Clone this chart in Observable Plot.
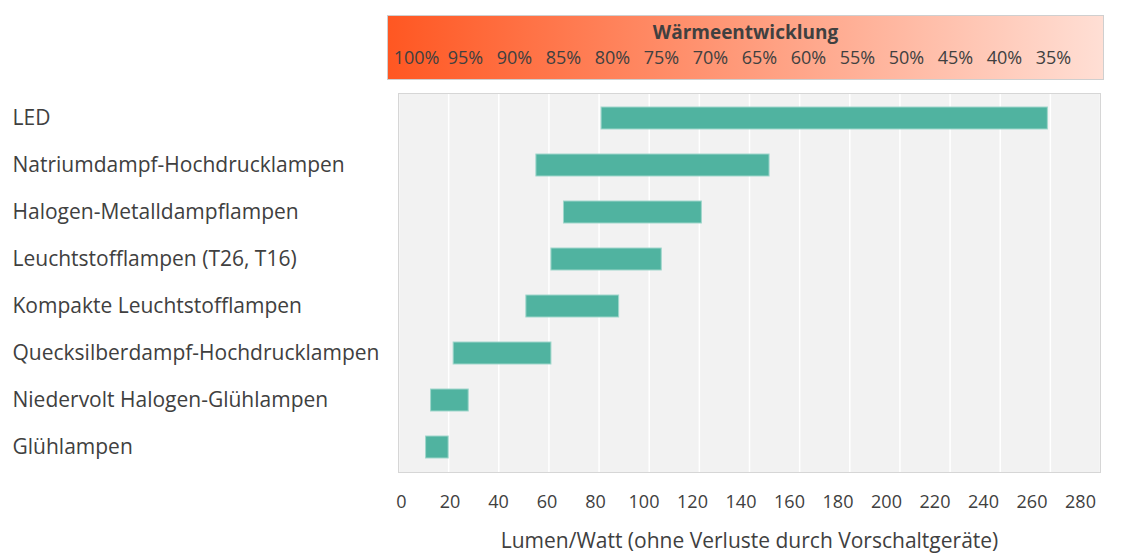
<!DOCTYPE html>
<html>
<head>
<meta charset="utf-8">
<script src="https://cdn.jsdelivr.net/npm/d3@7"></script>
<script src="https://cdn.jsdelivr.net/npm/@observablehq/plot@0.6"></script>
<style>
  html, body { margin: 0; padding: 0; background: #ffffff; }
  #chart svg { display: block; }
</style>
</head>
<body>
<div id="chart"></div>
<script>
// ---- Data ----
const categories = [
  "LED",
  "Natriumdampf-Hochdrucklampen",
  "Halogen-Metalldampflampen",
  "Leuchtstofflampen (T26, T16)",
  "Kompakte Leuchtstofflampen",
  "Quecksilberdampf-Hochdrucklampen",
  "Niedervolt Halogen-Glühlampen",
  "Glühlampen"
];
const minValues = [81, 55, 66, 61, 51, 22, 13, 11];
const maxValues = [259, 148, 121, 105, 88, 61, 28, 20];
const xTicks = [0, 20, 40, 60, 80, 100, 120, 140, 160, 180, 200, 220, 240, 260, 280];
const heatLabels = ["100%", "95%", "90%", "85%", "80%", "75%", "70%", "65%", "60%", "55%", "50%", "45%", "40%", "35%"];
const heatTitle = "Wärmeentwicklung";
const xTitle = "Lumen/Watt (ohne Verluste durch Vorschaltgeräte)";

const rows = categories.map((name, i) => ({name, lo: minValues[i], hi: maxValues[i]}));

const font = "'Open Sans', sans-serif";
const textColor = "#404040";
const root = document.getElementById("chart");

// ---- Heat legend (top) ----
const legendPlot = Plot.plot({
  width: 1124, height: 90,
  marginLeft: 387, marginRight: 21, marginTop: 15, marginBottom: 11,
  style: {fontFamily: font, background: "white"},
  x: {type: "point", domain: heatLabels, range: [413, 1055], padding: 0, axis: null},
  marks: [
    Plot.frame({fill: "url(#heatGrad)", stroke: "#CFCFCF"}),
    Plot.text([heatTitle], {text: d => d, frameAnchor: "top", lineAnchor: "middle", dy: 17,
      fontSize: 19, fontWeight: "bold", fill: textColor}),
    Plot.text(heatLabels, {x: d => d, text: d => d, lineAnchor: "middle", dy: 11,
      fontSize: 18, fill: textColor})
  ]
});
const defs = d3.select(legendPlot).insert("defs", ":first-child");
const grad = defs.append("linearGradient").attr("id", "heatGrad").attr("x1", "0%").attr("x2", "100%");
grad.append("stop").attr("offset", "0%").attr("stop-color", "#FF5722");
grad.append("stop").attr("offset", "100%").attr("stop-color", "#FFDFD5");
root.appendChild(legendPlot);

// ---- Main bars ----
const mainPlot = Plot.plot({
  width: 1124, height: 385,
  marginLeft: 398, marginRight: 24, marginTop: 3, marginBottom: 3,
  style: {fontFamily: font, background: "white"},
  x: {domain: [0, 280], axis: null},
  y: {domain: categories, axis: null, paddingInner: 0.53, paddingOuter: 0.26},
  marks: [
    Plot.frame({fill: "#F2F2F2"}),
    Plot.ruleX(xTicks, {stroke: "white", strokeWidth: 1.5}),
    Plot.barX(rows, {x1: "lo", x2: "hi", y: "name", fill: "#50B3A0", stroke: "#9FD6CB", strokeWidth: 1}),
    Plot.frame({stroke: "#D6D6D6"}),
    Plot.text(categories, {y: d => d, text: d => d, frameAnchor: "left", textAnchor: "start",
      dx: -386, fontSize: 21, fill: textColor})
  ]
});
root.appendChild(mainPlot);

// ---- X axis labels (bottom) ----
const axisPlot = Plot.plot({
  width: 1124, height: 79,
  marginLeft: 398, marginRight: 24, marginTop: 0, marginBottom: 0,
  style: {fontFamily: font, background: "white"},
  x: {domain: [0, 280], range: [401, 1080], axis: null},
  marks: [
    Plot.text(xTicks, {x: d => d, text: d => String(d), frameAnchor: "top", lineAnchor: "middle",
      dy: 27, fontSize: 18, fill: textColor}),
    Plot.text([xTitle], {text: d => d, frameAnchor: "top", lineAnchor: "middle", dy: 66,
      fontSize: 21, fill: textColor})
  ]
});
root.appendChild(axisPlot);
</script>
</body>
</html>
